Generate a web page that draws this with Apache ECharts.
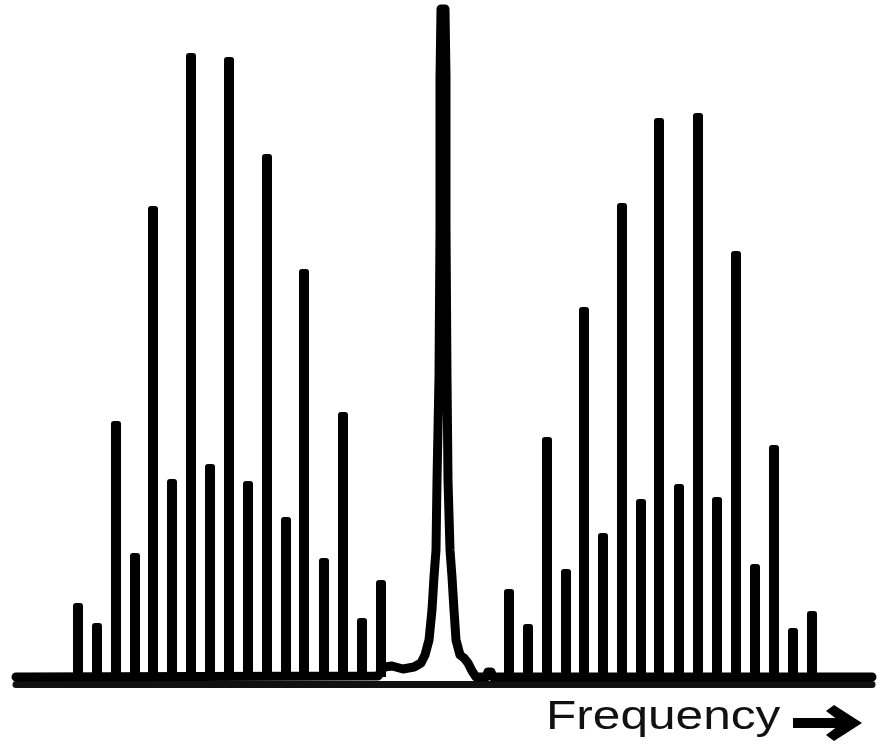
<!DOCTYPE html>
<html>
<head>
<meta charset="utf-8">
<title>Spectrum</title>
<script src="https://cdn.jsdelivr.net/npm/echarts@6/dist/echarts.min.js"></script>
<style>
  html, body { margin: 0; padding: 0; background: #fff; }
  #chart { width: 880px; height: 750px; }
</style>
</head>
<body>
<div id="chart"></div>
<script>
// line positions (frequency, arbitrary units) and intensities
const leftLineX = [78, 97, 116, 135, 153, 172, 191, 210, 229, 248, 267, 286, 304, 324, 343, 362, 381]
const leftLineI = [74, 54, 256, 124, 471, 198, 624, 213, 620, 196, 523, 160, 408, 119, 265, 59, 97]

const rightLineX = [509, 528, 547, 566, 584, 603, 622, 641, 659, 679, 698, 717, 736, 755, 774, 793, 812]
const rightLineI = [88, 53, 240, 108, 370, 144, 474, 178, 559, 193, 564, 180, 426, 113, 232, 49, 66]

// baseline trace with the central (Rayleigh) line
const traceX = [16, 378, 384, 392, 403, 414, 421, 425, 429, 432, 434, 436, 437, 439, 440, 440, 441,
  445, 446, 446, 447, 448, 450, 452, 454, 456, 460, 464, 468, 472, 476, 486, 488, 491, 493, 872]
const traceI = [0, 1, 10, 11, 8, 10, 14, 22, 37, 67, 100, 127, 197, 300, 450, 600, 668,
  668, 600, 450, 300, 197, 127, 100, 67, 37, 22, 19, 14, 6, 0, 0, 5, 5, 0, 0]

const chart = echarts.init(document.getElementById('chart'))

const lines = leftLineX.map((x, i) => [x, leftLineI[i]])
  .concat(rightLineX.map((x, i) => [x, rightLineI[i]]))

chart.setOption({
  animation: false,
  backgroundColor: '#fff',
  grid: { left: 16, right: 8, top: 0, bottom: 66 },
  xAxis: {
    type: 'value',
    min: 16,
    max: 872,
    axisLine: { show: true, onZero: false, lineStyle: { color: '#111', width: 7 } },
    axisTick: { show: false },
    axisLabel: { show: false },
    splitLine: { show: false },
  },
  yAxis: {
    type: 'value',
    min: -7,
    max: 677,
    show: false,
    splitLine: { show: false },
  },
  series: [
    {
      type: 'line',
      data: traceX.map((x, i) => [x, traceI[i]]),
      symbol: 'none',
      lineStyle: { color: '#000', width: 9, join: 'round', cap: 'round' },
      z: 2,
    },
    {
      type: 'bar',
      data: lines,
      barWidth: 10,
      itemStyle: { color: '#000', borderRadius: [3, 3, 0, 0] },
      z: 3,
    },
  ],
  graphic: [
    {
      type: 'text',
      x: 546,
      y: 718,
      scaleX: 1.24,
      style: {
        text: 'Frequency',
        font: '40px "Liberation Sans", Arial, sans-serif',
        fill: '#111',
        verticalAlign: 'middle',
      },
    },
    {
      type: 'rect',
      shape: { x: 793, y: 718, width: 50, height: 10 },
      style: { fill: '#000' },
    },
    {
      type: 'polygon',
      shape: { points: [[826, 711], [834, 705], [862, 723], [834, 741], [826, 735], [842, 723]] },
      style: { fill: '#000' },
    },
  ],
})
</script>
</body>
</html>
